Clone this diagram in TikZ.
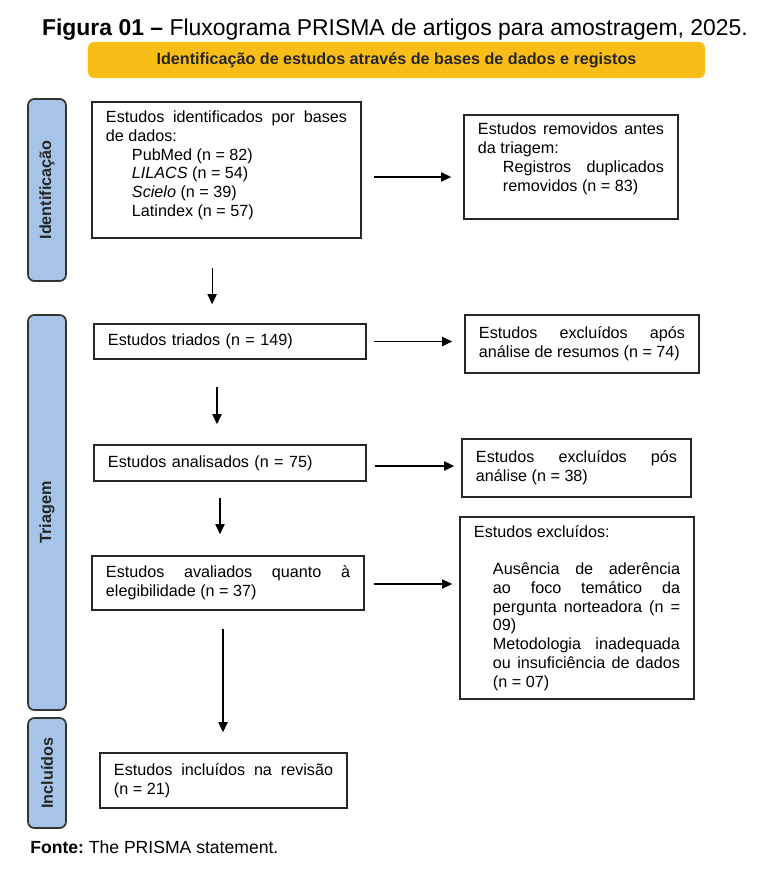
\documentclass[tikz,border=0pt]{standalone}
\usepackage{fontspec}
\setmainfont{Liberation Sans}
\usepackage{tikz}
\usetikzlibrary{arrows.meta,positioning,calc}
\definecolor{BannerGold}{RGB}{248,189,22}
\definecolor{PhaseBlue}{RGB}{166,196,232}
\frenchspacing

\begin{document}
\begin{tikzpicture}[
  x=0.025cm,
  y=-0.025cm,
  box/.style={
    rectangle,
    draw=black!85,
    line width=1.1pt,
    fill=white,
    align=justify,
    inner xsep=0.35cm,
    inner ysep=0.1cm,
    font=\fontsize{11.5}{13.3}\selectfont
  },
  phase/.style={
    rectangle,
    rounded corners=1.6mm,
    draw=black!80,
    line width=1.2pt,
    fill=PhaseBlue,
    rotate=90,
    minimum height=0.95cm,
    text=black!85,
    font=\bfseries\fontsize{11.5}{13}\selectfont
  },
  banner/.style={
    rectangle,
    rounded corners=1.6mm,
    fill=BannerGold,
    minimum width=15.425cm,
    minimum height=0.9cm,
    text=black!85,
    font=\bfseries\fontsize{11.5}{13}\selectfont
  },
  arrow/.style={-{Triangle[length=2.5mm, width=2.3mm]}, line width=0.8pt}
]
\useasboundingbox (0,0) rectangle (772,879);

% Title and banner
\node[anchor=base, font=\fontsize{16.3}{19}\selectfont] (title) at (395,36) {\textbf{Figura 01 –} Fluxograma PRISMA de artigos para amostragem, 2025.};
\node[banner] (banner) at (396.5,60) {Identificação de estudos através de bases de dados e registos};

% Phase bars
\node[phase, minimum width=4.55cm] (fase1) at (47,190) {Identificação};
\node[phase, minimum width=9.875cm] (fase2) at (47,512.5) {Triagem};
\node[phase, minimum width=2.75cm] (fase3) at (47,773) {Incluídos};

% Left column
\node[box, text width=6.025cm, inner ysep=0.22cm, text height=0.3cm, text depth=2.66cm] (ident) at (226.5,170)
  {Estudos identificados por bases de dados:\par
   \leftskip=0.65cm PubMed (n~=~82)\par
   \textit{LILACS} (n~=~54)\par
   \textit{Scielo} (n~=~39)\par
   Latindex (n~=~57)\par};
\node[box, text width=6.1cm, align=left, minimum height=0.875cm] (triados) at (230,341.5) {Estudos triados (n = 149)};
\node[box, text width=6.1cm, align=left, minimum height=0.9cm] (analisados) at (230,463) {Estudos analisados (n = 75)};
\node[box, text width=6.1cm, minimum height=1.35cm] (avaliados) at (228,583) {Estudos avaliados quanto à\linebreak elegibilidade (n~=~37)};
\node[box, text width=5.475cm, minimum height=1.375cm] (incluidos) at (223.5,780.5) {Estudos incluídos na revisão (n~=~21)};

% Right column
\node[box, text width=4.65cm, inner ysep=0.2cm, text height=0.3cm, text depth=1.9cm] (removidos) at (571,167)
  {Estudos removidos antes da triagem:\par
   \leftskip=0.625cm Registros duplicados removidos (n~=~83)\par};
\node[box, text width=5.15cm, minimum height=1.45cm] (resumos) at (582,344) {Estudos excluídos após análise de resumos (n~=~74)};
\node[box, text width=5.025cm, minimum height=1.45cm] (pos) at (576.5,468) {Estudos excluídos pós análise (n~=~38)};
\node[box, text width=5.15cm, minimum height=4.55cm] (excluidos) at (577,608)
  {Estudos excluídos:\par\vspace{13.3pt}
   \leftskip=0.475cm Ausência de aderência\linebreak ao foco temático da\linebreak pergunta norteadora (n =\linebreak 09)\par
   Metodologia inadequada\linebreak ou insuficiência de dados\linebreak (n~=~07)\par};

% Footer
\node[anchor=base west, inner sep=0pt, font=\fontsize{12.5}{15}\selectfont] (fonte) at (30,853) {\textbf{Fonte:} The PRISMA statement.};

% Arrows
\draw[arrow, shorten <=7.25mm, shorten >=4.75mm] ([xshift=-3.6mm]ident.south) -- ([xshift=-3.6mm]ident.south |- triados.north);
\draw[arrow, shorten <=6.75mm, shorten >=5mm] ([xshift=-3.25mm]triados.south) -- ([xshift=-3.25mm]triados.south |- analisados.north);
\draw[arrow, shorten <=4mm, shorten >=5.25mm] ([xshift=-2.5mm]analisados.south) -- ([xshift=-2.5mm]analisados.south |- avaliados.north);
\draw[arrow, shorten <=4.5mm, shorten >=5mm] ([xshift=-1.25mm]avaliados.south) -- ([xshift=-1.25mm]avaliados.south |- incluidos.north);
\draw[arrow, shorten <=3mm, shorten >=3mm] ([yshift=-1.75mm]ident.east) -- ([yshift=-1.75mm]ident.east -| removidos.west);
\draw[arrow, shorten <=1.75mm, shorten >=3mm] (triados.east) -- (triados.east -| resumos.west);
\draw[arrow, shorten <=2mm, shorten >=1.75mm] ([yshift=-0.75mm]analisados.east) -- ([yshift=-0.75mm]analisados.east -| pos.west);
\draw[arrow, shorten <=2.25mm, shorten >=1.75mm] ([yshift=-0.25mm]avaliados.east) -- ([yshift=-0.25mm]avaliados.east -| excluidos.west);
\end{tikzpicture}
\end{document}
